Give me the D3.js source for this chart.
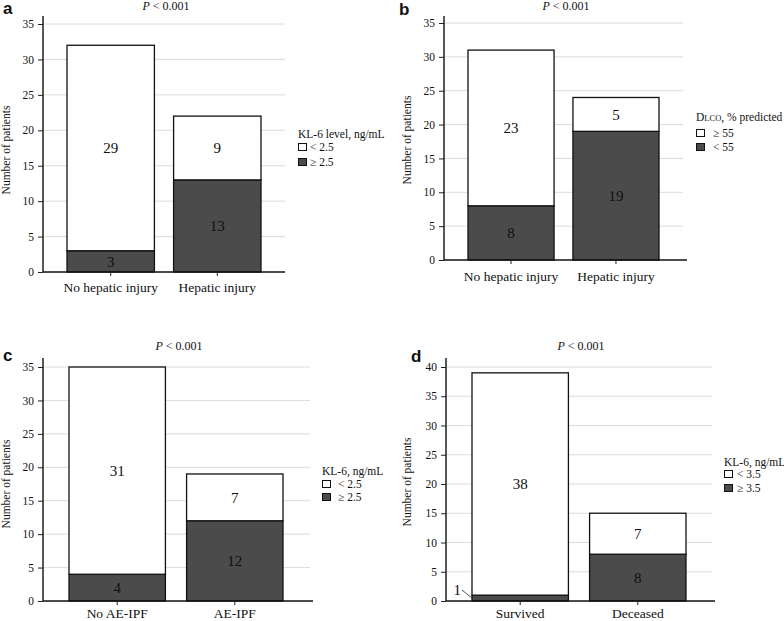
<!DOCTYPE html>
<html><head><meta charset="utf-8">
<script src="https://cdn.jsdelivr.net/npm/d3@7"></script>
<style>
html,body{margin:0;padding:0;background:#fff;}
svg{display:block;font-family:"Liberation Serif","Times New Roman",serif;}
</style></head>
<body>
<svg id="chart" width="784" height="621"></svg>
<script>
// ---------- DATA ----------
const panelLetters = ["a", "b", "c", "d"];
const pTitle = "< 0.001";

const categoriesA = ["No hepatic injury", "Hepatic injury"];
const darkA = [3, 13];    // ≥ 2.5
const lightA = [29, 9];   // < 2.5

const categoriesB = ["No hepatic injury", "Hepatic injury"];
const darkB = [8, 19];    // < 55
const lightB = [23, 5];   // ≥ 55

const categoriesC = ["No AE-IPF", "AE-IPF"];
const darkC = [4, 12];    // ≥ 2.5
const lightC = [31, 7];   // < 2.5

const categoriesD = ["Survived", "Deceased"];
const darkD = [1, 8];     // ≥ 3.5
const lightD = [38, 7];   // < 3.5

const yTicksABC = [0, 5, 10, 15, 20, 25, 30, 35];
const yTicksD = [0, 5, 10, 15, 20, 25, 30, 35, 40];

const legendTitles = ["KL-6 level, ng/mL", "DLCO, % predicted", "KL-6, ng/mL", "KL-6, ng/mL"];
const legendLight = ["< 2.5", "\u2265 55", "< 2.5", "< 3.5"];
const legendDark = ["\u2265 2.5", "< 55", "\u2265 2.5", "\u2265 3.5"];
const yLabel = "Number of patients";

// ---------- LAYOUT ----------
const DARK = "#4b4b4b", GRID = "#dcdcdc";
const svg = d3.select("#chart");

const panels = [
  {cats: categoriesA, dark: darkA, light: lightA, ticks: yTicksABC, ymax: 35,
   axisX: 43, y0: 272, yTop: 24, axisTop: 16, gridEnd: 285, xEnd: 285, bars: [67, 261],
   letter: [3, 14], title: [166, 10], ylab: [10, 150], catY: 292,
   leg: {x: 298, tY: 138, b1: 143, b2: 158, lx: 310}},
  {cats: categoriesB, dark: darkB, light: lightB, ticks: yTicksABC, ymax: 35,
   axisX: 444, y0: 260, yTop: 23, axisTop: 16, gridEnd: 683, xEnd: 687, bars: [468, 659],
   letter: [399, 15], title: [566, 10], ylab: [411, 140], catY: 281,
   leg: {x: 696, tY: 121, b1: 129, b2: 143, lx: 713}},
  {cats: categoriesC, dark: darkC, light: lightC, ticks: yTicksABC, ymax: 35,
   axisX: 43, y0: 601, yTop: 367, axisTop: 358, gridEnd: 310, xEnd: 313, bars: [69, 283],
   letter: [3, 361], title: [179, 350], ylab: [10, 484], catY: 618,
   leg: {x: 322, tY: 475, b1: 480, b2: 493, lx: 338}},
  {cats: categoriesD, dark: darkD, light: lightD, ticks: yTicksD, ymax: 40,
   axisX: 446, y0: 601, yTop: 367, axisTop: 358, gridEnd: 712, xEnd: 715, bars: [472, 686],
   letter: [411, 362], title: [581, 350], ylab: [411, 482], catY: 618,
   leg: {x: 724, tY: 466, b1: 470, b2: 484, lx: 737}}
];

panels.forEach((p, i) => {
  const g = svg.append("g");
  const y = d3.scaleLinear().domain([0, p.ymax]).range([p.y0, p.yTop]);
  const x = d3.scaleBand().domain(p.cats).range(p.bars).paddingInner(0.18).paddingOuter(0);

  // gridlines
  g.selectAll(".grid").data(p.ticks.filter(t => t > 0)).join("line")
    .attr("x1", p.axisX).attr("x2", p.gridEnd)
    .attr("y1", d => y(d)).attr("y2", d => y(d))
    .attr("stroke", GRID).attr("stroke-width", 1);

  // stacked data
  const rows = p.cats.map((c, k) => ({cat: c, dark: p.dark[k], light: p.light[k]}));
  const stack = d3.stack().keys(["dark", "light"])(rows);

  stack.forEach(layer => {
    g.selectAll(null).data(layer).join("rect")
      .attr("x", d => x(d.data.cat))
      .attr("width", x.bandwidth())
      .attr("y", d => y(d[1]))
      .attr("height", d => y(d[0]) - y(d[1]))
      .attr("fill", layer.key === "dark" ? DARK : "#fff")
      .attr("stroke", "#111").attr("stroke-width", 1.3);
  });

  // value labels
  stack.forEach(layer => {
    g.selectAll(null).data(layer.filter(d => d[1] - d[0] >= 2)).join("text")
      .attr("x", d => x(d.data.cat) + x.bandwidth() / 2)
      .attr("y", d => (y(d[0]) + y(d[1])) / 2)
      .attr("dy", "0.36em")
      .attr("text-anchor", "middle")
      .attr("font-size", 15)
      .attr("fill", "#111")
      .text(d => d[1] - d[0]);
  });

  // small segments labelled with a leader line to the left
  stack.forEach(layer => {
    layer.forEach(d => {
      const v = d[1] - d[0];
      if (v >= 2) return;
      const bx = x(d.data.cat);
      const ym = (y(d[0]) + y(d[1])) / 2;
      g.append("line").attr("x1", bx - 10).attr("y1", ym - 8)
        .attr("x2", bx).attr("y2", ym).attr("stroke", "#222").attr("stroke-width", 0.8);
      g.append("text").attr("x", bx - 11).attr("y", ym - 3)
        .attr("text-anchor", "end").attr("font-size", 15).attr("fill", "#111").text(v);
    });
  });

  // y axis
  const yAxis = d3.axisLeft(y).tickValues(p.ticks).tickSize(5).tickPadding(4).tickSizeOuter(0);
  const ya = g.append("g").attr("transform", `translate(${p.axisX},0)`).call(yAxis);
  ya.select(".domain").remove();
  ya.selectAll("text").attr("font-size", 11.5).attr("fill", "#111")
    .attr("font-family", "Liberation Serif, serif");
  ya.selectAll(".tick line").attr("stroke", "#222");
  g.append("line").attr("x1", p.axisX).attr("x2", p.axisX)
    .attr("y1", p.axisTop).attr("y2", p.y0).attr("stroke", "#111").attr("stroke-width", 1.4);

  // x axis
  g.append("line").attr("x1", p.axisX).attr("x2", p.xEnd)
    .attr("y1", p.y0).attr("y2", p.y0).attr("stroke", "#111").attr("stroke-width", 1.4);
  g.selectAll(null).data(p.cats).join("line")
    .attr("x1", d => x(d) + x.bandwidth() / 2).attr("x2", d => x(d) + x.bandwidth() / 2)
    .attr("y1", p.y0).attr("y2", p.y0 + 4).attr("stroke", "#222");
  g.selectAll(null).data(p.cats).join("text")
    .attr("x", d => x(d) + x.bandwidth() / 2).attr("y", p.catY)
    .attr("text-anchor", "middle").attr("font-size", 13.5).attr("fill", "#111")
    .text(d => d);

  // y label
  g.append("text")
    .attr("transform", `translate(${p.ylab[0]},${p.ylab[1]}) rotate(-90)`)
    .attr("text-anchor", "middle").attr("font-size", 11.5).attr("fill", "#111")
    .text(yLabel);

  // panel letter
  g.append("text").attr("x", p.letter[0]).attr("y", p.letter[1])
    .attr("font-family", "Liberation Sans, Arial, sans-serif").attr("font-weight", "bold")
    .attr("font-size", 17).attr("fill", "#111").text(panelLetters[i]);

  // title P < 0.001
  const t = g.append("text").attr("x", p.title[0]).attr("y", p.title[1])
    .attr("text-anchor", "middle").attr("font-size", 12).attr("fill", "#111");
  t.append("tspan").attr("font-style", "italic").text("P");
  t.append("tspan").text(" " + pTitle);

  // legend
  const L = p.leg;
  const lt = g.append("text").attr("x", L.x).attr("y", L.tY)
    .attr("font-size", 11.5).attr("fill", "#111");
  if (legendTitles[i].startsWith("DLCO")) {
    lt.append("tspan").text("D");
    lt.append("tspan").attr("font-size", 8.5).text("LCO");
    lt.append("tspan").text(legendTitles[i].slice(4));
  } else {
    lt.text(legendTitles[i]);
  }
  [[L.b1, "#fff", legendLight[i]], [L.b2, DARK, legendDark[i]]].forEach(([by, fill, lab]) => {
    g.append("rect").attr("x", L.x + 0.5).attr("y", by + 0.5).attr("width", 8).attr("height", 7)
      .attr("fill", fill).attr("stroke", "#111").attr("stroke-width", 1);
    g.append("text").attr("x", L.lx).attr("y", by + 7.5)
      .attr("font-size", 11.5).attr("fill", "#111").text(lab);
  });
});
</script>
</body></html>
